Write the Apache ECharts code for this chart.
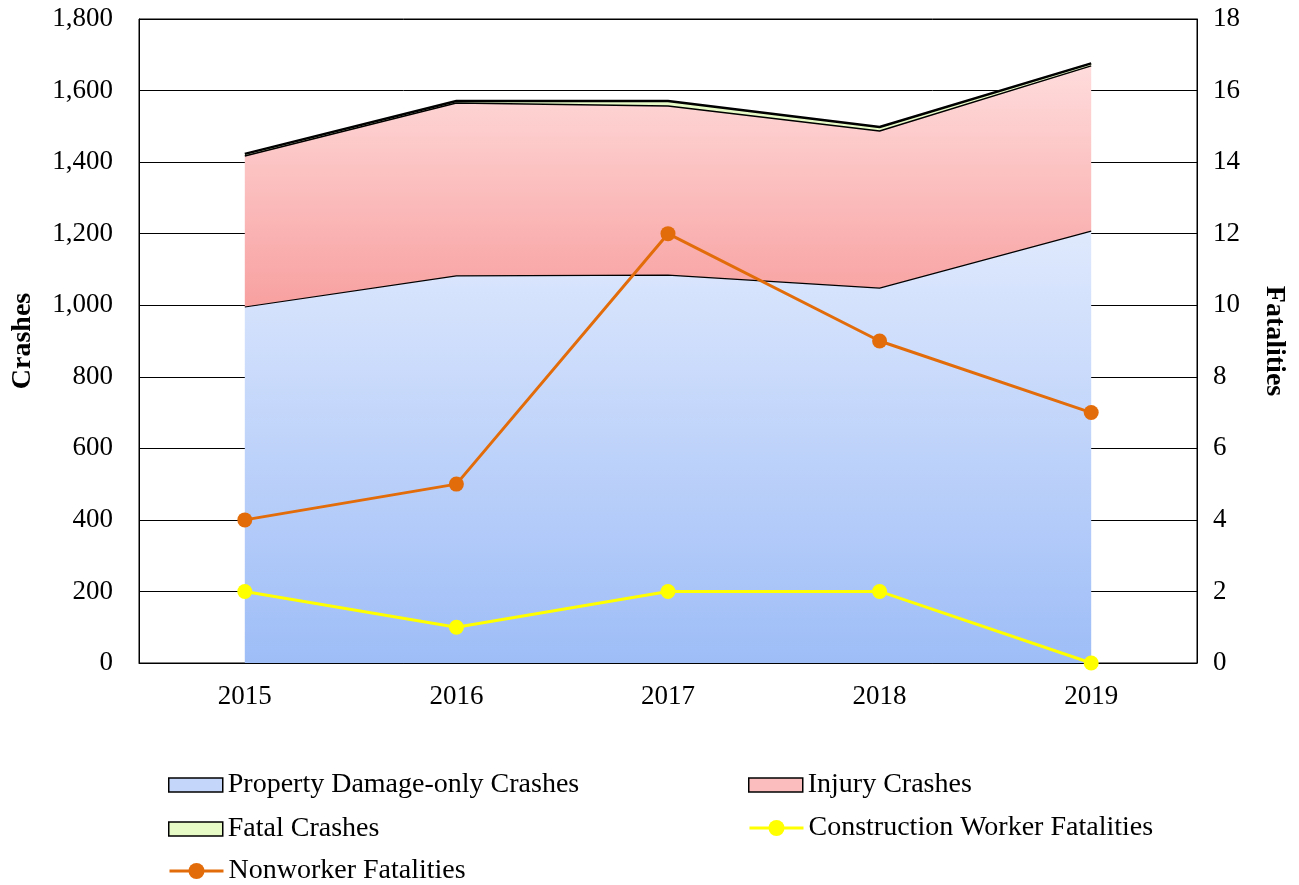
<!DOCTYPE html>
<html>
<head>
<meta charset="utf-8">
<script src="https://cdn.jsdelivr.net/npm/echarts@6/dist/echarts.min.js"></script>
<style>
  html, body { margin: 0; padding: 0; background: #fff; }
  #chart { width: 1299px; height: 885px; }
</style>
</head>
<body>
<div id="chart"></div>
<script>
const years = ['2015', '2016', '2017', '2018', '2019']
const propertyDamage = [995, 1082, 1084, 1048, 1207]
const injuryCrashes = [422, 483, 473, 439, 462]
const fatalCrashes = [6, 6, 14, 11, 7]
const workerFatalities = [2, 1, 2, 2, 0]
const nonworkerFatalities = [4, 5, 12, 9, 7]

const font = '"Liberation Serif", "Times New Roman", serif'
const chart = echarts.init(document.getElementById('chart'))

// one legend per entry so box and line icons can have their own sizes
const legendItem = (name, left, top, isBox, color) => ({
  left: left,
  top: top,
  padding: 0,
  itemWidth: 54,
  itemHeight: isBox ? 14 : 20,
  textStyle: { fontFamily: font, fontSize: 28, color: '#000' },
  data: [isBox
    ? { name: name, icon: 'rect', itemStyle: { color: color, borderColor: '#000', borderWidth: 1.5 } }
    : { name: name, lineStyle: { width: 3, color: color }, itemStyle: { color: color } }]
})

const option = {
  animation: false,
  textStyle: { fontFamily: font },
  grid: {
    left: 139,
    right: 102,
    top: 19,
    bottom: 222,
    outerBoundsMode: 'none',
    show: true,
    borderColor: '#000',
    borderWidth: 1
  },
  legend: [
    legendItem('Property Damage-only Crashes', 168, 771, true, '#c4d7fb'),
    legendItem('Fatal Crashes', 168, 815, true, '#e6fbc6'),
    legendItem('Nonworker Fatalities', 168, 857, false, '#e36c0a'),
    legendItem('Injury Crashes', 748, 771, true, '#fbbdbd'),
    legendItem('Construction Worker Fatalities', 748, 814, false, '#ffff00')
  ],
  xAxis: {
    type: 'category',
    data: years,
    boundaryGap: true,
    axisLine: { lineStyle: { color: '#000' } },
    axisTick: { show: false },
    axisLabel: { color: '#000', fontSize: 27, fontFamily: font, margin: 20 }
  },
  yAxis: [
    {
      type: 'value',
      min: 0,
      max: 1800,
      interval: 200,
      name: 'Crashes',
      nameLocation: 'middle',
      nameGap: 102,
      nameTextStyle: { color: '#000', fontSize: 28, fontWeight: 'bold', fontFamily: font },
      axisLine: { show: true, lineStyle: { color: '#000' } },
      axisTick: { show: false },
      axisLabel: {
        color: '#000',
        fontSize: 27,
        fontFamily: font,
        margin: 26,
        formatter: v => v.toLocaleString('en-US')
      },
      splitLine: { lineStyle: { color: '#000', width: 1 } }
    },
    {
      type: 'value',
      min: 0,
      max: 18,
      interval: 2,
      name: 'Fatalities',
      nameLocation: 'middle',
      nameGap: 63,
      nameRotate: -90,
      nameTextStyle: { color: '#000', fontSize: 28, fontWeight: 'bold', fontFamily: font },
      axisLine: { show: true, lineStyle: { color: '#000' } },
      axisTick: { show: false },
      axisLabel: { color: '#000', fontSize: 27, fontFamily: font, margin: 16 },
      splitLine: { show: false }
    }
  ],
  series: [
    {
      name: 'Property Damage-only Crashes',
      type: 'line',
      stack: 'crashes',
      data: propertyDamage,
      symbol: 'none',
      lineStyle: { color: '#000', width: 1.2 },
      itemStyle: { color: '#c4d7fb' },
      areaStyle: {
        opacity: 1,
        color: new echarts.graphic.LinearGradient(0, 0, 0, 1, [
          { offset: 0, color: '#dfe9fd' },
          { offset: 1, color: '#9ebdf7' }
        ])
      }
    },
    {
      name: 'Injury Crashes',
      type: 'line',
      stack: 'crashes',
      data: injuryCrashes,
      symbol: 'none',
      lineStyle: { color: '#000', width: 1.5 },
      itemStyle: { color: '#fbbdbd' },
      areaStyle: {
        opacity: 1,
        color: new echarts.graphic.LinearGradient(0, 0, 0, 1, [
          { offset: 0, color: '#ffdcdc' },
          { offset: 1, color: '#f8a0a0' }
        ])
      }
    },
    {
      name: 'Fatal Crashes',
      type: 'line',
      stack: 'crashes',
      data: fatalCrashes,
      symbol: 'none',
      lineStyle: { color: '#000', width: 2.5 },
      itemStyle: { color: '#e6fbc6' },
      areaStyle: { opacity: 1, color: '#e6fbc6' }
    },
    {
      name: 'Construction Worker Fatalities',
      type: 'line',
      yAxisIndex: 1,
      data: workerFatalities,
      symbol: 'circle',
      symbolSize: 15,
      lineStyle: { color: '#ffff00', width: 3 },
      itemStyle: { color: '#ffff00' }
    },
    {
      name: 'Nonworker Fatalities',
      type: 'line',
      yAxisIndex: 1,
      data: nonworkerFatalities,
      symbol: 'circle',
      symbolSize: 15,
      lineStyle: { color: '#e36c0a', width: 3 },
      itemStyle: { color: '#e36c0a' }
    }
  ]
}

chart.setOption(option)
</script>
</body>
</html>
